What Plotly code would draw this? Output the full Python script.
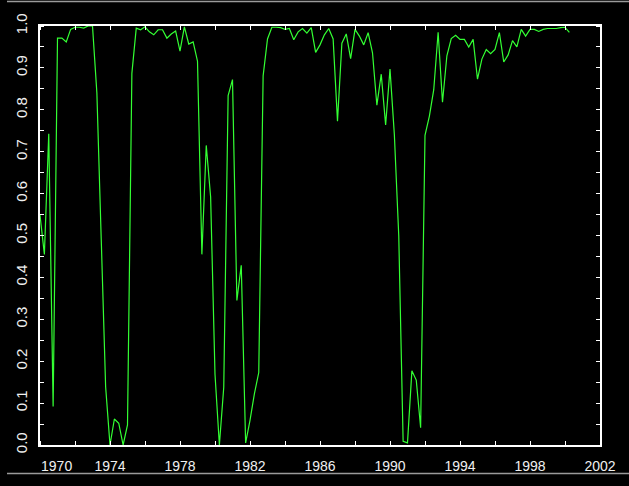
import plotly.graph_objects as go

# Quarterly series, 1970.00 .. 2000.25
start_year = 1970.0
step = 0.25
values = [
    0.549, 0.455, 0.743, 0.092, 0.971, 0.971, 0.962, 0.992, 0.997, 0.997,
    0.995, 1.000, 1.000, 0.840, 0.490, 0.139, 0.000, 0.062, 0.052, 0.000,
    0.048, 0.887, 0.995, 0.991, 0.998, 0.986, 0.979, 0.991, 0.991, 0.971,
    0.981, 0.988, 0.940, 0.998, 0.957, 0.962, 0.916, 0.455, 0.715, 0.592,
    0.169, 0.000, 0.138, 0.834, 0.872, 0.345, 0.429, 0.005, 0.059, 0.122,
    0.173, 0.881, 0.969, 0.997, 0.997, 0.996, 0.992, 0.994, 0.967, 0.986,
    0.994, 0.983, 0.996, 0.937, 0.955, 0.979, 0.994, 0.969, 0.773, 0.959,
    0.981, 0.922, 0.992, 0.976, 0.955, 0.984, 0.936, 0.811, 0.885, 0.764,
    0.897, 0.740, 0.500, 0.009, 0.005, 0.177, 0.155, 0.041, 0.739, 0.785,
    0.848, 0.985, 0.818, 0.929, 0.970, 0.978, 0.968, 0.968, 0.950, 0.968,
    0.873, 0.921, 0.944, 0.934, 0.944, 0.984, 0.914, 0.931, 0.965, 0.950,
    0.992, 0.976, 0.992, 0.992, 0.987, 0.992, 0.994, 0.994, 0.994, 0.996,
    0.997, 0.985,
]
years = [start_year + i * step for i in range(len(values))]

x_label_vals = [1970.95, 1974, 1978, 1982, 1986, 1990, 1994, 1998, 2002]
x_label_text = ["1970", "1974", "1978", "1982", "1986", "1990", "1994", "1998", "2002"]
x_minor_vals = list(range(1970, 2003, 2))
y_label_vals = [i / 10 for i in range(11)]
y_label_text = [f"{v:.1f}" for v in y_label_vals]
y_minor_vals = [i / 20 for i in range(21)]

fig = go.Figure()
fig.add_trace(go.Scatter(
    x=years, y=values, mode="lines",
    line=dict(color="#33ff33", width=1.2),
    hoverinfo="skip", showlegend=False,
))

xfont = dict(family="Liberation Sans, Arial, sans-serif", size=14, color="#f0f0f0")
yfont = dict(family="Liberation Sans, Arial, sans-serif", size=15, color="#f0f0f0")

fig.update_layout(
    width=629, height=486, autosize=False,
    margin=dict(l=40, r=29, t=26, b=34, pad=0),
    paper_bgcolor="#000000", plot_bgcolor="#000000",
    font=xfont,
    xaxis=dict(
        range=[1970, 2002], showgrid=False, zeroline=False,
        showline=True, linecolor="#ffffff", linewidth=1.5, mirror="allticks",
        tickmode="array", tickvals=x_label_vals, ticktext=x_label_text,
        ticks="", tickfont=xfont, ticklabelstandoff=7,
        minor=dict(tickmode="array", tickvals=x_minor_vals, ticks="inside",
                   ticklen=4, tickcolor="#ffffff", tickwidth=1, showgrid=False),
    ),
    yaxis=dict(
        range=[0, 1], showgrid=False, zeroline=False,
        showline=True, linecolor="#ffffff", linewidth=1.5, mirror="allticks",
        tickmode="array", tickvals=y_label_vals, ticktext=y_label_text,
        ticks="", tickangle=-90, tickfont=yfont, ticklabelstandoff=5,
        minor=dict(tickmode="array", tickvals=y_minor_vals, ticks="inside",
                   ticklen=4, tickcolor="#ffffff", tickwidth=1, showgrid=False),
    ),
    shapes=[
        dict(type="line", xref="paper", yref="paper",
             x0=(7 - 40) / 560, x1=(629 - 40) / 560,
             y0=(452 - 1) / 426, y1=(452 - 1) / 426,
             line=dict(color="#9a9a9a", width=1.5)),
        dict(type="line", xref="paper", yref="paper",
             x0=(7 - 40) / 560, x1=(629 - 40) / 560,
             y0=(452 - 481) / 426, y1=(452 - 481) / 426,
             line=dict(color="#9a9a9a", width=1.5)),
    ],
)

fig.write_html("out.html")
